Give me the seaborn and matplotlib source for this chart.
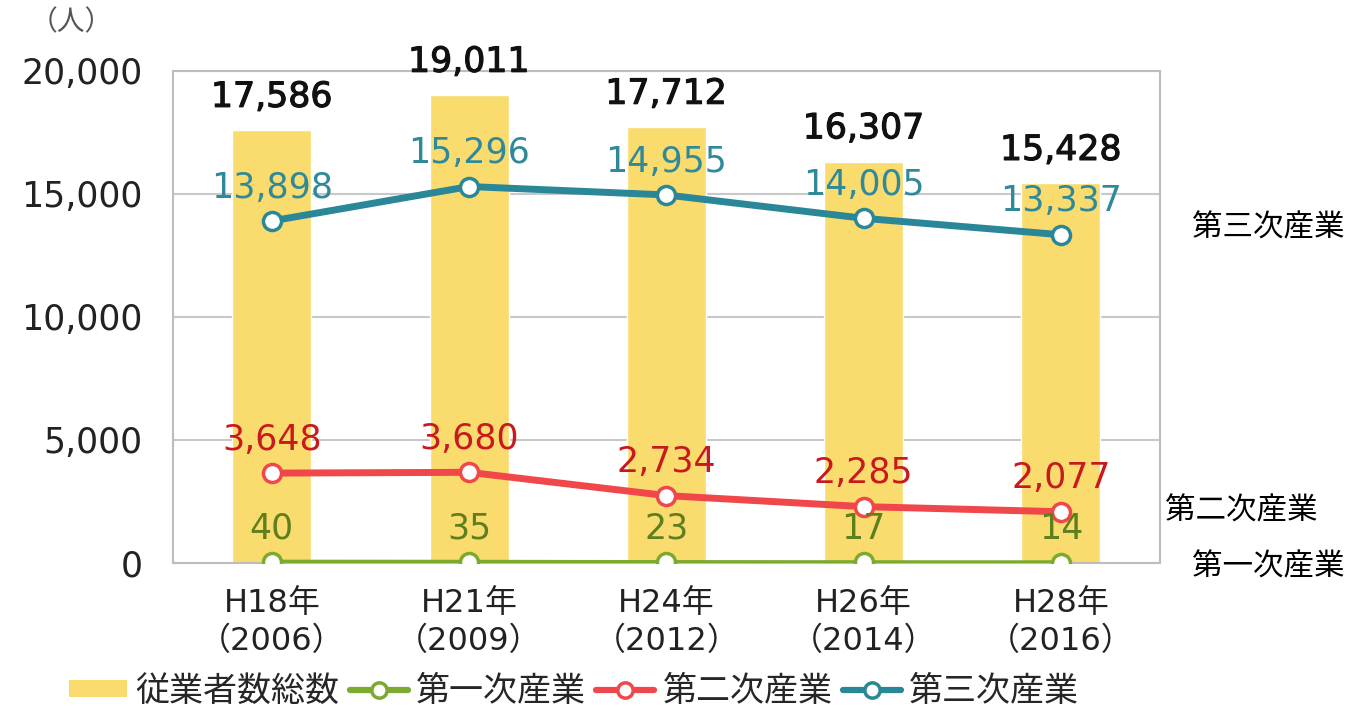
import numpy as np
import matplotlib.pyplot as plt
import matplotlib.patheffects as pe
import seaborn as sns
from matplotlib.lines import Line2D
from matplotlib.patches import Patch

# data
years = ['H18年\n（2006）', 'H21年\n（2009）', 'H24年\n（2012）', 'H26年\n（2014）', 'H28年\n（2016）']
total = [17586, 19011, 17712, 16307, 15428]
primary = [40, 35, 23, 17, 14]
secondary = [3648, 3680, 2734, 2285, 2077]
tertiary = [13898, 15296, 14955, 14005, 13337]

sns.set_theme(style='white')
plt.rcParams['font.family'] = ['Noto Sans CJK JP', 'DejaVu Sans']
num_font = ['DejaVu Sans', 'Noto Sans CJK JP']

c_bar = '#FADB6E'
c_green, c_green_t = '#7BAA2F', '#5E7F1E'
c_red, c_red_t = '#F0474B', '#C81A1E'
c_teal, c_teal_t = '#2A8798', '#2E8A9A'

fig = plt.figure(figsize=(13.53, 7.08), dpi=100)
ax = fig.add_axes([0.128, 0.205, 0.729, 0.695])

pos = np.arange(len(years))
sns.barplot(x=years, y=total, color=c_bar, width=0.4, saturation=1, ax=ax)

for vals, col, tcol, lw in [(primary, c_green, c_green_t, 3.2),
                            (secondary, c_red, c_red_t, 5),
                            (tertiary, c_teal, c_teal_t, 5)]:
    sns.lineplot(x=pos, y=vals, color=col, linewidth=lw, marker='o',
                 markersize=13, markerfacecolor='white', markeredgecolor=col,
                 markeredgewidth=2.5, ax=ax, zorder=5)
    for p, v in zip(pos, vals):
        ax.annotate(f'{v:,}', (p, v), xytext=(0, 24), textcoords='offset points',
                    ha='center', va='center', fontsize=25, color=tcol, zorder=6,
                    family=num_font)

for p, v in zip(pos, total):
    ax.annotate(f'{v:,}', (p, v), xytext=(0, 24), textcoords='offset points',
                ha='center', va='center', fontsize=25, color='#111111',
                family=num_font, zorder=6,
                path_effects=[pe.withStroke(linewidth=0.8, foreground='#111111')])

ax.set_xlim(-0.5, 4.5)
ax.set_ylim(0, 20000)
ax.set_yticks([0, 5000, 10000, 15000, 20000])
ax.set_yticklabels(['0', '5,000', '10,000', '15,000', '20,000'], family=num_font)
ax.set_xticks(pos)
ax.set_xticklabels(years, family=num_font, linespacing=1.3)
ax.grid(axis='y', color='#C8C8C8', linewidth=1.5)
ax.set_axisbelow(True)
for s in ax.spines.values():
    s.set_color('#BDBDBD')
    s.set_linewidth(1.5)
ax.tick_params(axis='y', length=0, pad=22, labelsize=25, labelcolor='#222222')
ax.tick_params(axis='x', length=0, pad=18, labelsize=23, labelcolor='#222222')
ax.set_xlabel('')
ax.set_ylabel('')

fig.text(0.022, 0.968, '（人）', fontsize=20, color='#555555', ha='left', va='center')

# side labels
fig.text(0.994, 0.678, '第三次産業', fontsize=22, color='black', ha='right', va='center')
fig.text(0.861, 0.279, '第二次産業', fontsize=22, color='black', ha='left', va='center')
fig.text(0.994, 0.200, '第一次産業', fontsize=22, color='black', ha='right', va='center')

handles = [
    Patch(facecolor=c_bar, edgecolor='none'),
    Line2D([], [], color=c_green, lw=4.5, marker='o', markersize=11,
           markerfacecolor='white', markeredgecolor=c_green, markeredgewidth=2.5),
    Line2D([], [], color=c_red, lw=4.5, marker='o', markersize=11,
           markerfacecolor='white', markeredgecolor=c_red, markeredgewidth=2.5),
    Line2D([], [], color=c_teal, lw=4.5, marker='o', markersize=11,
           markerfacecolor='white', markeredgecolor=c_teal, markeredgewidth=2.5),
]
labels = ['従業者数総数', '第一次産業', '第二次産業', '第三次産業']
leg = fig.legend(handles, labels, loc='center left', bbox_to_anchor=(0.036, 0.024),
                 ncol=4, frameon=False, fontsize=24.5, handlelength=1.7,
                 handletextpad=0.25, columnspacing=0.3, handleheight=0.4,
                 borderpad=0.1)

fig.savefig('out.png', dpi=100)
